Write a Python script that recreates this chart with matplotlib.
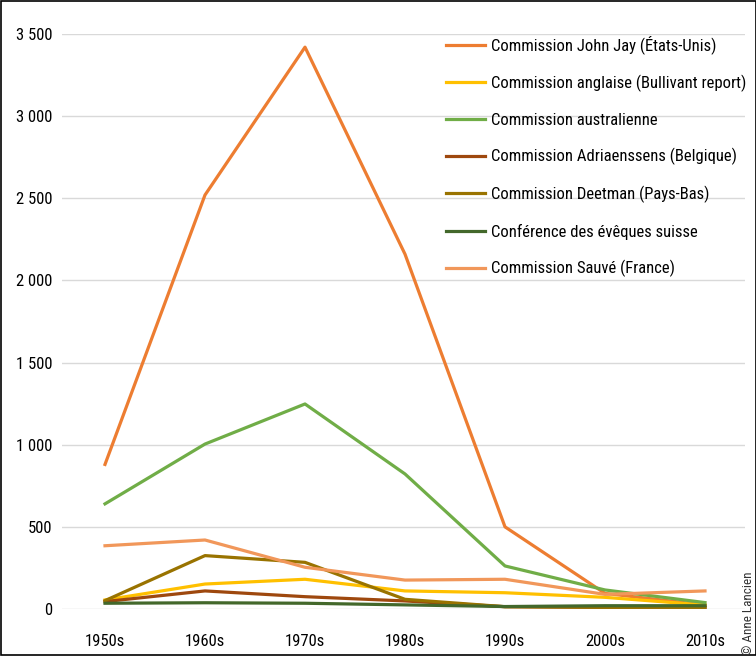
import matplotlib.pyplot as plt
from matplotlib.patches import Rectangle

plt.rcParams['font.family'] = ['Roboto Condensed', 'Fira Sans Condensed', 'DejaVu Sans']

# ---------- data ----------
decades = ['1950s', '1960s', '1970s', '1980s', '1990s', '2000s', '2010s']
john_jay = [880, 2520, 3420, 2160, 500, 95, 24]
anglaise = [55, 152, 181, 110, 99, 71, 24]
australienne = [640, 1004, 1248, 822, 262, 116, 39]
adriaenssens = [45, 110, 75, 49, 14, 10, 10]
deetman = [51, 325, 284, 59, 14, 10, 10]
suisse = [35, 38, 35, 25, 15, 20, 20]
sauve = [385, 420, 254, 176, 181, 89, 110]

labels = ['Commission John Jay (États-Unis)',
          'Commission anglaise (Bullivant report)',
          'Commission australienne',
          'Commission Adriaenssens (Belgique)',
          'Commission Deetman (Pays-Bas)',
          'Conférence des évêques suisse',
          'Commission Sauvé (France)']
series = [john_jay, anglaise, australienne, adriaenssens, deetman, suisse, sauve]
colors = ['#ED7D31', '#FFC000', '#70AD47', '#9E480E', '#997300', '#43682B', '#F1975A']

yticks = [0, 500, 1000, 1500, 2000, 2500, 3000, 3500]
ytick_labels = ['0', '500', '1 000', '1 500', '2 000', '2 500', '3 000', '3 500']

# ---------- plot ----------
W, H = 756, 660
fig = plt.figure(figsize=(W/100, H/100), dpi=100)
ax = fig.add_axes([62/W, (H-609)/H, (745-62)/W, (609-34)/H])

x = list(range(len(decades)))
for vals, lab, c in zip(series, labels, colors):
    ax.plot(x, vals, color=c, linewidth=2.3, label=lab, clip_on=False)

ax.set_xlim(-0.43, 6.4)
ax.set_ylim(0, 3500)
ax.set_yticks(yticks)
ax.set_yticklabels(ytick_labels)
ax.set_xticks(x)
ax.set_xticklabels(decades)
ax.tick_params(axis='both', length=0, labelsize=12, colors='black')
ax.tick_params(axis='x', pad=18)
ax.tick_params(axis='y', pad=7)
ax.grid(True, axis='y', color='#d9d9d9', linewidth=1)
ax.set_axisbelow(True)
for s in ax.spines.values():
    s.set_visible(False)

leg = ax.legend(loc='upper left', bbox_to_anchor=(0.553, 1.009), frameon=False,
                fontsize=12, handlelength=2.3, handletextpad=0.4,
                labelspacing=1.23, borderaxespad=0)

fig.text(749/W, 1 - 655/H, '© Anne Lancien', rotation=90, ha='center', va='bottom',
         fontsize=9.5, color='#333333')

# outer frame
fig.patches.append(Rectangle((1/W, 1 - 655/H), (W-1)/W, 654/H, transform=fig.transFigure,
                             fill=False, edgecolor='black', linewidth=1.2))

fig.savefig('out.png', dpi=100)
